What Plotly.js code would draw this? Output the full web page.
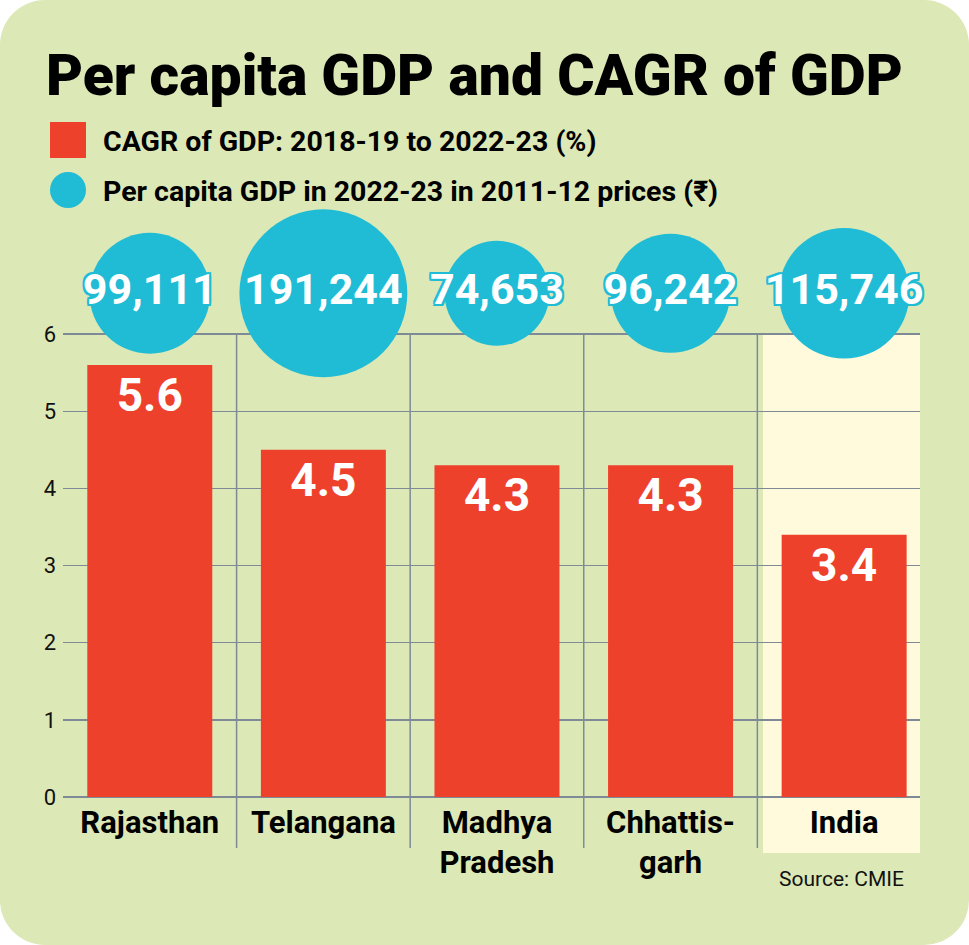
<!DOCTYPE html>
<html>
<head>
<meta charset="utf-8">
<script src="https://cdn.plot.ly/plotly-3.0.1.min.js"></script>
<style>
  html, body { margin: 0; padding: 0; background: #ffffff; }
  #card { width: 969px; height: 945px; border-radius: 45px; overflow: hidden; }
  #chart { width: 969px; height: 945px; }
</style>
</head>
<body>
<div id="card"><div id="chart"></div></div>
<script>
// Per capita GDP and GDP growth by state
const categories = ['Rajasthan', 'Telangana', 'Madhya Pradesh', 'Chhattisgarh', 'India'];
const tickLabels = ['Rajasthan', 'Telangana', 'Madhya<br>Pradesh', 'Chhattis-<br>garh', 'India'];
const cagrPct = [5.6, 4.5, 4.3, 4.3, 3.4];
const perCapitaGdp = [99111, 191244, 74653, 96242, 115746];
const perCapitaLabels = ['99,111', '191,244', '74,653', '96,242', '115,746'];
const yTicks = [0, 1, 2, 3, 4, 5, 6];

const W = 969, H = 945;
const M = { l: 63, r: 49, t: 257, b: 148 };
const plotW = W - M.l - M.r, plotH = H - M.t - M.b;
const px = x => (x - M.l) / plotW;          // pixel column -> paper x
const py = y => (H - M.b - y) / plotH;      // pixel row -> paper y

const RED = '#ee412c';
const CYAN = '#20bcd6';
const BG = '#dce8b5';
const GRID = '#7e8b97';
const CREAM = '#fefadb';
const FONT = 'Roboto, "Liberation Sans", "DejaVu Sans Condensed", sans-serif';

// outline for the figures sitting on the bubbles
const o = 2;
const outline = [[o,0],[-o,0],[0,o],[0,-o],[o,o],[-o,-o],[o,-o],[-o,o]]
  .map(d => `${d[0]}px ${d[1]}px 0 ${CYAN}`).join(', ');

const bars = {
  type: 'bar',
  x: categories,
  y: cagrPct,
  width: 0.72,
  marker: { color: RED, line: { width: 0 } },
  texttemplate: '%{y}',
  textposition: 'inside',
  insidetextanchor: 'end',
  constraintext: 'none',
  textangle: 0,
  textfont: { family: FONT, size: 46, color: '#ffffff', weight: 'bold' },
  hoverinfo: 'skip',
  showlegend: false
};

// bubble area is proportional to per capita GDP
const bubbleRow = 6.53;
const bubbles = {
  type: 'scatter',
  mode: 'markers+text',
  x: categories,
  y: categories.map(() => bubbleRow),
  text: perCapitaLabels,
  textposition: 'middle center',
  cliponaxis: false,
  marker: {
    size: perCapitaGdp,
    sizemode: 'area',
    sizeref: 13.56,
    color: CYAN,
    line: { width: 0 },
    opacity: 1
  },
  textfont: { family: FONT, size: 43, color: '#ffffff', weight: 'bold', shadow: outline },
  hoverinfo: 'skip',
  showlegend: false
};

const shapes = [];
// highlighted national column
shapes.push({
  type: 'rect', xref: 'paper', yref: 'paper', layer: 'below',
  x0: px(763), x1: 1, y0: py(853), y1: py(334),
  fillcolor: CREAM, line: { width: 0 }
});
// category separators
[0.5, 1.5, 2.5, 3.5].forEach(v => shapes.push({
  type: 'line', xref: 'x', yref: 'paper', layer: 'below',
  x0: v, x1: v, y0: py(848), y1: py(334),
  line: { color: GRID, width: 1.5 }
}));
// legend keys
shapes.push({
  type: 'rect', xref: 'paper', yref: 'paper',
  x0: px(50), x1: px(86), y0: py(158), y1: py(122),
  fillcolor: RED, line: { width: 0 }
});
shapes.push({
  type: 'circle', xref: 'paper', yref: 'paper',
  x0: px(50), x1: px(86), y0: py(208), y1: py(172),
  fillcolor: CYAN, line: { width: 0 }
});

const annotations = [
  {
    text: 'Per capita GDP and CAGR of GDP',
    xref: 'paper', yref: 'paper', x: px(44), y: py(76),
    xanchor: 'left', yanchor: 'middle', showarrow: false,
    font: { family: FONT, size: 57, color: '#000000', weight: 900 }
  },
  {
    text: 'CAGR of GDP: 2018-19 to 2022-23 (%)',
    xref: 'paper', yref: 'paper', x: px(101), y: py(142),
    xanchor: 'left', yanchor: 'middle', showarrow: false,
    font: { family: FONT, size: 28.5, color: '#000000', weight: 'bold' }
  },
  {
    text: 'Per capita GDP in 2022-23 in 2011-12 prices (₹)',
    xref: 'paper', yref: 'paper', x: px(101), y: py(191),
    xanchor: 'left', yanchor: 'middle', showarrow: false,
    font: { family: FONT, size: 28.5, color: '#000000', weight: 'bold' }
  },
  {
    text: 'Source: CMIE',
    xref: 'paper', yref: 'paper', x: px(906), y: py(879),
    xanchor: 'right', yanchor: 'middle', showarrow: false,
    font: { family: FONT, size: 21, color: '#111111' }
  }
];

const layout = {
  width: W, height: H,
  margin: M,
  paper_bgcolor: BG,
  plot_bgcolor: 'rgba(0,0,0,0)',
  showlegend: false,
  xaxis: {
    type: 'category',
    range: [-0.5, 4.437],
    tickmode: 'array',
    tickvals: categories,
    ticktext: tickLabels,
    showgrid: false,
    zeroline: false,
    showline: false,
    ticks: '',
    ticklabelstandoff: 4,
    tickfont: { family: FONT, size: 31, color: '#000000', weight: 'bold' },
    fixedrange: true
  },
  yaxis: {
    range: [0, 7],
    tickmode: 'array',
    tickvals: yTicks,
    showgrid: true,
    gridcolor: GRID,
    gridwidth: 1.5,
    zeroline: true,
    zerolinecolor: GRID,
    zerolinewidth: 1.5,
    showline: false,
    ticks: '',
    ticklabelstandoff: 6,
    tickfont: { family: FONT, size: 22, color: '#111111' },
    fixedrange: true
  },
  shapes: shapes,
  annotations: annotations
};

Plotly.newPlot('chart', [bars, bubbles], layout, { displayModeBar: false, staticPlot: true });
</script>
</body>
</html>
